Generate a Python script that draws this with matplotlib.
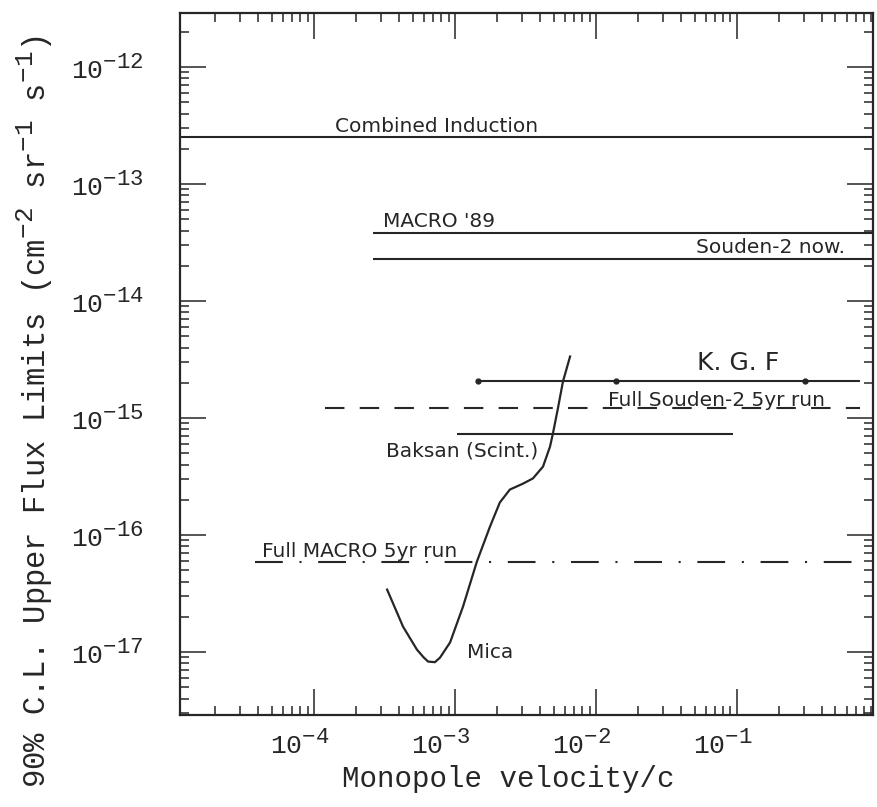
import numpy as np
import matplotlib.pyplot as plt
import matplotlib.transforms as mtransforms
import matplotlib._mathtext as mathtext_internals
from matplotlib.ticker import LogLocator, NullFormatter, FixedLocator

plt.rcParams['font.family'] = 'Liberation Mono'
plt.rcParams['mathtext.fontset'] = 'custom'
plt.rcParams['mathtext.rm'] = 'Liberation Mono'
plt.rcParams['mathtext.it'] = 'Liberation Mono:italic'
plt.rcParams['mathtext.bf'] = 'Liberation Mono:bold'
plt.rcParams['lines.scale_dashes'] = False
# the old plot has big exponents
mathtext_internals.SHRINK_FACTOR = 0.85

ink = '#262626'

# axis ranges (velocity/c, flux)
v_range = (1.12e-5, 0.923)
f_range = (2.9e-18, 2.9e-12)
v_ticks = [1e-4, 1e-3, 1e-2, 1e-1]
f_ticks = [1e-17, 1e-16, 1e-15, 1e-14, 1e-13, 1e-12]

# measured limits (solid lines)
limit_names = ['Combined Induction', "MACRO '89", 'Souden-2 now.', 'K. G. F', 'Baksan (Scint.)']
limit_flux = [2.55e-13, 3.85e-14, 2.31e-14, 2.09e-15, 7.38e-16]
limit_vmin = [1.12e-5, 2.6e-4, 2.6e-4, 1.46e-3, 1.03e-3]
limit_vmax = [0.923, 0.923, 0.923, 0.745, 0.094]
kgf_dots = [1.46e-3, 1.39e-2, 0.303]

# projected limits (dashed)
proj_names = ['Full Souden-2 5yr run', 'Full MACRO 5yr run']
proj_flux = [1.21e-15, 5.94e-17]
proj_vmin = [1.2e-4, 3.8e-5]
proj_vmax = [0.75, 0.75]

# mica curve
mica_v = [3.30e-4, 4.28e-4, 5.37e-4, 6.00e-4, 6.44e-4, 7.20e-4, 7.83e-4, 9.23e-4,
          1.14e-3, 1.43e-3, 1.77e-3, 2.08e-3, 2.45e-3, 3.03e-3, 3.57e-3, 4.21e-3,
          4.72e-3, 4.95e-3, 5.37e-3, 5.83e-3, 6.55e-3]
mica_flux = [3.42e-17, 1.65e-17, 1.05e-17, 9.0e-18, 8.30e-18, 8.2e-18, 8.97e-18,
             1.21e-17, 2.45e-17, 5.94e-17, 1.18e-16, 1.90e-16, 2.45e-16, 2.75e-16,
             3.05e-16, 3.85e-16, 5.70e-16, 7.38e-16, 1.21e-15, 2.05e-15, 3.36e-15]

fig = plt.figure(figsize=(8.78, 8.07), dpi=100)
ax = fig.add_axes([180 / 878, 1 - 715 / 807, 693 / 878, 702 / 807])
ax.set_xscale('log')
ax.set_yscale('log')
ax.set_xlim(*v_range)
ax.set_ylim(*f_range)

for f, a, b in zip(limit_flux, limit_vmin, limit_vmax):
    ax.plot([a, b], [f, f], color=ink, lw=1.5, solid_capstyle='butt')
ax.plot(kgf_dots, [limit_flux[3]] * len(kgf_dots), 'o', color=ink, ms=3.5)

ax.plot([proj_vmin[0], proj_vmax[0]], [proj_flux[0]] * 2, color=ink, lw=1.5,
        dashes=(14, 11))
ax.plot([proj_vmin[1], proj_vmax[1]], [proj_flux[1]] * 2, color=ink, lw=1.5,
        dashes=(20, 12, 1.5, 12))

ax.plot(mica_v, mica_flux, color=ink, lw=1.6)

lab = dict(family='DejaVu Sans', fontsize=14.5, color=ink)
ax.annotate(limit_names[0], (1.41e-4, limit_flux[0]), xytext=(0, 3),
            textcoords='offset points', va='baseline', ha='left', **lab)
ax.annotate(limit_names[1], (3.1e-4, limit_flux[1]), xytext=(0, 4),
            textcoords='offset points', va='baseline', ha='left', **lab)
ax.annotate(limit_names[2], (0.58, limit_flux[2]), xytext=(0, 4),
            textcoords='offset points', va='baseline', ha='right', **lab)
ax.annotate(limit_names[3], (5.2e-2, limit_flux[3]), xytext=(0, 8),
            textcoords='offset points', va='baseline', ha='left',
            family='DejaVu Sans', fontsize=18, color=ink)
ax.annotate(limit_names[4], (3.24e-4, limit_flux[4]), xytext=(0, -6),
            textcoords='offset points', va='top', ha='left', **lab)
ax.annotate(proj_names[0], (1.22e-2, proj_flux[0]), xytext=(0, 2),
            textcoords='offset points', va='baseline', ha='left', **lab)
ax.annotate(proj_names[1], (4.3e-5, proj_flux[1]), xytext=(0, 3),
            textcoords='offset points', va='baseline', ha='left', **lab)
ax.text(1.22e-3, 9.9e-18, 'Mica', va='center', ha='left', **lab)

ax.xaxis.set_major_locator(FixedLocator(v_ticks))
ax.yaxis.set_major_locator(FixedLocator(f_ticks))
ax.xaxis.set_minor_locator(LogLocator(base=10, subs=np.arange(2, 10), numticks=30))
ax.yaxis.set_minor_locator(LogLocator(base=10, subs=np.arange(2, 10), numticks=30))
ax.xaxis.set_minor_formatter(NullFormatter())
ax.yaxis.set_minor_formatter(NullFormatter())
ax.set_xticklabels([r'$10^{-%d}$' % k for k in (4, 3, 2, 1)])
ax.set_yticklabels([r'$10^{-%d}$' % k for k in (17, 16, 15, 14, 13, 12)])

ax.tick_params(which='both', direction='in', top=True, right=True, color=ink,
               labelcolor=ink, labelsize=19, width=1.1)
ax.tick_params(which='major', length=19)
ax.tick_params(which='minor', length=6.5)
ax.tick_params(axis='y', which='major', pad=26)
ax.tick_params(axis='x', which='major', pad=11)

shift = mtransforms.ScaledTranslation(-14 / 100, 0, fig.dpi_scale_trans)
for t in ax.get_xticklabels():
    t.set_transform(t.get_transform() + shift)

for s in ax.spines.values():
    s.set_linewidth(1.6)
    s.set_color(ink)

fig.text(508 / 878, 1 - 779 / 807, 'Monopole velocity/c', ha='center', va='center',
         fontsize=21, color=ink)
fig.text(35 / 878, 1 - 412 / 807,
         r'90% C.L. Upper Flux Limits (cm$^{-2}$ sr$^{-1}$ s$^{-1}$)',
         rotation=90, ha='center', va='center', fontsize=22, color=ink)

fig.savefig('out.png', dpi=100)
